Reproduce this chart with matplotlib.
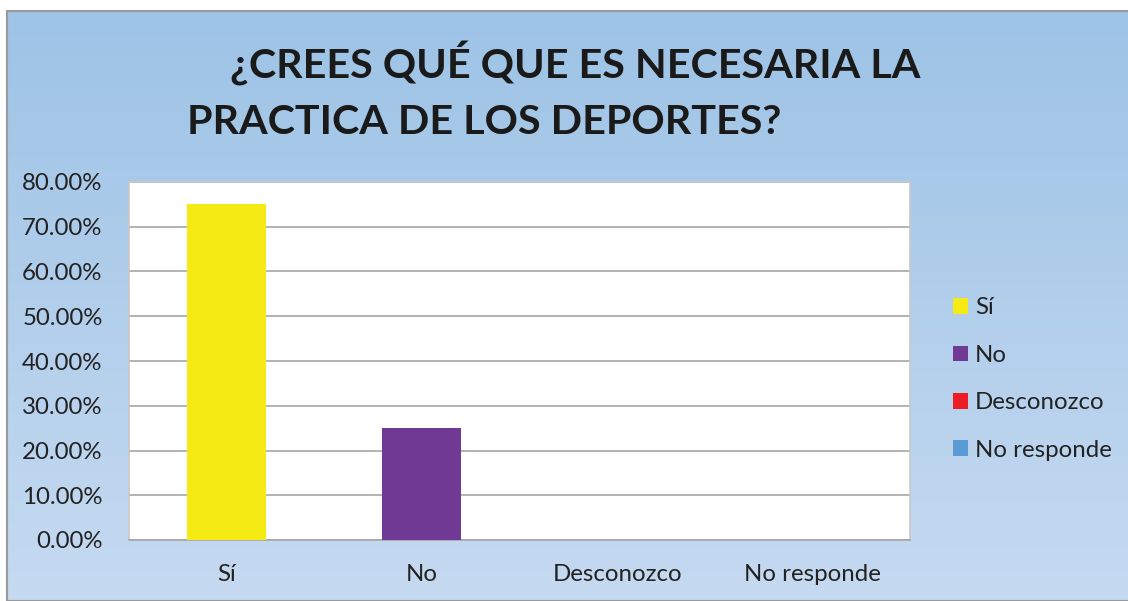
import numpy as np
import matplotlib.pyplot as plt
from matplotlib.patches import Rectangle
from matplotlib.ticker import FuncFormatter

categorias = ['Sí', 'No', 'Desconozco', 'No responde']
valores = [0.75, 0.25, 0.0, 0.0]
colores = ['#F5EA14', '#6F3994', '#ED1C24', '#5B9BD5']
titulo1 = '¿CREES QUÉ QUE ES NECESARIA LA'
titulo2 = 'PRACTICA DE LOS DEPORTES?'

plt.rcParams['font.family'] = ['Lato', 'DejaVu Sans']

W, H = 1128, 601
fig = plt.figure(figsize=(W / 100, H / 100), dpi=100)
fig.patch.set_facecolor('white')

# fondo degradado del area del grafico
bg = fig.add_axes([7 / W, 0, 1 - 7 / W, (H - 11) / H])
grad = np.linspace(0, 1, 256).reshape(-1, 1)
c_top = np.array([0x9D, 0xC3, 0xE6]) / 255
c_bot = np.array([0xC6, 0xDA, 0xF1]) / 255
img = c_top[None, None, :] * (1 - grad[:, :, None]) + c_bot[None, None, :] * grad[:, :, None]
bg.imshow(img, aspect='auto', extent=[0, 1, 0, 1], origin='upper')
bg.set_xlim(0, 1)
bg.set_ylim(0, 1)
bg.axis('off')
bg.add_patch(Rectangle((0, 0), 1.5, 1, fill=False, edgecolor='#9a9a9a', lw=1.5,
                       transform=bg.transAxes, clip_on=False))

fig.text(575 / W, 1 - 64 / H, titulo1, ha='center', va='center',
         fontsize=29.7, fontweight='bold', color='#1a1a1a')
fig.text(484 / W, 1 - 123 / H, titulo2, ha='center', va='center',
         fontsize=29.7, fontweight='bold', color='#1a1a1a')

ax = fig.add_axes([129 / W, (H - 540) / H, 781 / W, 358 / H])
ax.set_facecolor('white')
x = np.arange(len(categorias))
for i in range(len(categorias)):
    ax.bar(x[i], valores[i], width=0.405, color=colores[i], label=categorias[i], zorder=3)

ax.set_xlim(-0.5, len(categorias) - 0.5)
ax.set_ylim(0, 0.8)
ax.set_yticks(np.arange(0, 0.81, 0.1))
ax.yaxis.set_major_formatter(FuncFormatter(lambda v, p: '%.2f%%' % (v * 100)))
ax.set_xticks(x)
ax.set_xticklabels(categorias)
ax.grid(axis='y', color='#a6a6a6', lw=1.2, zorder=0)
ax.tick_params(axis='both', length=0, labelsize=17.3, colors='#222222')
ax.tick_params(axis='y', pad=19)
ax.tick_params(axis='x', pad=17)
for s in ['top', 'right', 'left']:
    ax.spines[s].set_color('#c8c8c8')
    ax.spines[s].set_linewidth(1.2)
ax.spines['bottom'].set_color('#a6a6a6')
ax.spines['bottom'].set_linewidth(1.2)

leg = ax.legend(loc='center left', bbox_to_anchor=(941 / W, 1 - 379 / H),
                bbox_transform=fig.transFigure, frameon=False, fontsize=17.3,
                handlelength=0.62, handleheight=0.62, handletextpad=0.3,
                labelspacing=1.1, borderpad=0)
for t in leg.get_texts():
    t.set_color('#222222')

fig.savefig('out.png', dpi=100)
